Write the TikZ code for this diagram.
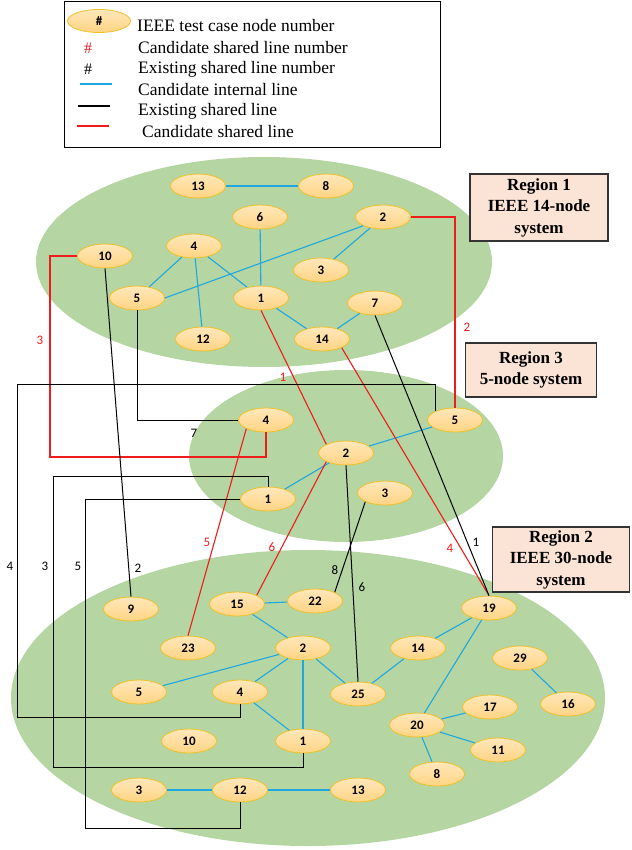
\documentclass[tikz,border=0pt]{standalone}
\usepackage{fontspec}
\setmainfont{Liberation Serif}
\newfontfamily\calfont{Carlito}
\usetikzlibrary{shapes.geometric}
\definecolor{regiongreen}{HTML}{B5D5A3}
\definecolor{busfill}{HTML}{FFD483}
\definecolor{busline}{HTML}{EFC02A}
\definecolor{tagfill}{HTML}{FBE4D6}
\definecolor{intblue}{HTML}{1FA7DF}
\definecolor{candred}{HTML}{EE1C1C}
\begin{document}
\begin{tikzpicture}[x=1pt,y=-1pt,
    bus/.style={ellipse, draw=busline, line width=0.8pt, top color=busfill!55!white, bottom color=busfill,
        minimum width=55pt, minimum height=24pt, inner sep=0pt, font=\calfont\bfseries\fontsize{13}{13}\selectfont},
    tag/.style={draw=black!80, line width=1.3pt, fill=tagfill, align=center, inner sep=2pt,
        font=\bfseries\fontsize{17}{21.5}\selectfont},
    internal/.style={draw=intblue, line width=1.1pt},
    existing/.style={draw=black, line width=1pt},
    candidate/.style={draw=candred, line width=1.1pt},
    num/.style={font=\calfont\fontsize{13}{13}\selectfont, inner sep=0pt},
    legmark/.style={font=\fontsize{16}{16}\selectfont, inner sep=0pt},
    legtext/.style={anchor=west, font=\fontsize{17.5}{19}\selectfont, inner sep=0pt}]
    \useasboundingbox (0,0) rectangle (631,850);

    % Legend
    \draw[line width=1pt] (64,2) rectangle (440,148);
    \node[bus, minimum width=63pt, minimum height=23pt] (leg) at (99,21) {\#};
    \node[legtext] (t1) at (137,26) {IEEE test case node number};
    \node[legmark, candred] (h1) at (88,48) {\#};
    \node[legtext] (t2) at (138,48) {Candidate shared line number};
    \node[legmark] (h2) at (88,69) {\#};
    \node[legtext] (t3) at (138,69) {Existing shared line number};
    \draw[internal] (80,84) -- (112,84);
    \node[legtext] (t4) at (138,90) {Candidate internal line};
    \draw[existing, line width=1.3pt] (78,106) -- (110,106);
    \node[legtext] (t5) at (138,111) {Existing shared line};
    \draw[candidate, line width=1.3pt] (77,126) -- (109,126);
    \node[legtext] (t6) at (142,132) {Candidate shared line};

    % Regions
    \fill[regiongreen] (264,262) ellipse [x radius=228pt, y radius=105pt];
    \fill[regiongreen] (346,456) ellipse [x radius=157pt, y radius=86pt];
    \fill[regiongreen] (308,698) ellipse [x radius=297pt, y radius=148pt];

    \node[tag, minimum width=138pt, minimum height=67pt] (reg1) at (539,207.5) {Region 1\\IEEE 14-node\\system};
    \node[tag, minimum width=131pt, minimum height=54pt] (reg3) at (531,370) {Region 3\\5-node system};
    \node[tag, minimum width=137pt, minimum height=65pt] (reg2) at (561,559.5) {Region 2\\IEEE 30-node\\system};

    % Region 1 nodes
    \node[bus] (a13) at (198,186) {13};
    \node[bus] (a8) at (326,186) {8};
    \node[bus] (a6) at (260,217) {6};
    \node[bus] (a2) at (383,217) {2};
    \node[bus] (a10) at (105,256) {10};
    \node[bus] (a4) at (194,246) {4};
    \node[bus] (a3) at (321,270) {3};
    \node[bus] (a5) at (137,298) {5};
    \node[bus] (a1) at (261,298) {1};
    \node[bus] (a7) at (375,303) {7};
    \node[bus] (a12) at (203,339) {12};
    \node[bus] (a14) at (322,339) {14};

    % Region 3 nodes
    \node[bus] (c4) at (266,420) {4};
    \node[bus] (c5) at (455,420) {5};
    \node[bus] (c2) at (346,453) {2};
    \node[bus] (c1) at (268,499) {1};
    \node[bus] (c3) at (385,493) {3};

    % Region 2 nodes
    \node[bus] (b9) at (131,609) {9};
    \node[bus] (b15) at (237,604) {15};
    \node[bus] (b22) at (315,601) {22};
    \node[bus] (b19) at (489,608) {19};
    \node[bus] (b23) at (188,648) {23};
    \node[bus] (b2) at (303,648) {2};
    \node[bus] (b14) at (418,648) {14};
    \node[bus] (b29) at (520,658) {29};
    \node[bus] (b5) at (139,692) {5};
    \node[bus] (b4) at (240,692) {4};
    \node[bus] (b25) at (358,694) {25};
    \node[bus] (b17) at (490,707) {17};
    \node[bus] (b16) at (568,704) {16};
    \node[bus] (b20) at (417,725) {20};
    \node[bus] (b10) at (189,741) {10};
    \node[bus] (b1) at (303,741) {1};
    \node[bus] (b11) at (498,750) {11};
    \node[bus] (b8) at (437,774) {8};
    \node[bus] (b3) at (139,790) {3};
    \node[bus] (b12) at (240,790) {12};
    \node[bus] (b13) at (358,790) {13};

    % Internal lines
    \draw[internal] (a13) -- (a8);
    \draw[internal] (a6) -- (a1);
    \draw[internal] (a2.south west) -- (a5.east);
    \draw[internal] (a2) -- (a3);
    \draw[internal] (a4) -- (a5);
    \draw[internal] (a4) -- (a12);
    \draw[internal] (a4) -- (a1);
    \draw[internal] (a1) -- (a14);
    \draw[internal] (a7) -- (a14);
    \draw[internal] (c2) -- (c5);
    \draw[internal] (c2) -- (c1);
    \draw[internal] (b15) -- (b22);
    \draw[internal] (b15) -- (b2);
    \draw[internal] (b2) -- (b5);
    \draw[internal] (b2) -- (b4);
    \draw[internal] (b2) -- (b1);
    \draw[internal] (b2) -- (b25);
    \draw[internal] (b4) -- (b1);
    \draw[internal] (b25) -- (b14);
    \draw[internal] (b14) -- (b19);
    \draw[internal] (b19) -- (b20);
    \draw[internal] (b20) -- (b17);
    \draw[internal] (b20) -- (b11);
    \draw[internal] (b20) -- (b8);
    \draw[internal] (b29) -- (b16);
    \draw[internal] (b3) -- (b12);
    \draw[internal] (b12) -- (b13);

    % Corners of the routed shared lines
    \coordinate (r3) at (50,457);
    \coordinate (k4a) at (17,384);
    \coordinate (k4b) at (240,717);
    \coordinate (k3a) at (53,476);
    \coordinate (k3b) at (303,767);
    \coordinate (k5) at (85,828);

    % Candidate shared lines
    \draw[candidate] (a1.south) -- (c2.north west);
    \draw[candidate] (a2.east) -| (c5.north);
    \draw[candidate] (a10.west) -| (r3) -| (c4.south);
    \draw[candidate] (a14.south east) -- (b19.north);
    \draw[candidate] (c4.south west) -- (b23.north);
    \draw[candidate] (c2.south west) -- (b15.north east);

    % Existing shared lines
    \draw[existing] (a7.south) -- (b19.north);
    \draw[existing] (a10.south) -- (b9.north);
    \draw[existing] (c5.north west) |- (k4a) |- (k4b) -- (b4.south);
    \draw[existing] (c1.north) |- (k3a) |- (k3b) -- (b1.south);
    \draw[existing] (c1.west) -| (k5) -| (b12.south);
    \draw[existing] (a5.south) |- (c4.west);
    \draw[existing] (c3.south west) -- (b22.north east);
    \draw[existing] (c2.south) -- (b25.north);

    % Line numbers
    \node[num, candred] (n1) at (283,377) {1};
    \node[num, candred] (n2) at (467,327) {2};
    \node[num, candred] (n3) at (40,340) {3};
    \node[num, candred] (n4) at (450,548) {4};
    \node[num, candred] (n5) at (207,542) {5};
    \node[num, candred] (n6) at (272,547) {6};
    \node[num] (e1) at (476,542) {1};
    \node[num] (e2) at (138,568) {2};
    \node[num] (e3) at (45,566) {3};
    \node[num] (e4) at (10,566) {4};
    \node[num] (e5) at (78,566) {5};
    \node[num] (e6) at (362,587) {6};
    \node[num] (e7) at (194,433) {7};
    \node[num] (e8) at (335,570) {8};
\end{tikzpicture}
\end{document}
